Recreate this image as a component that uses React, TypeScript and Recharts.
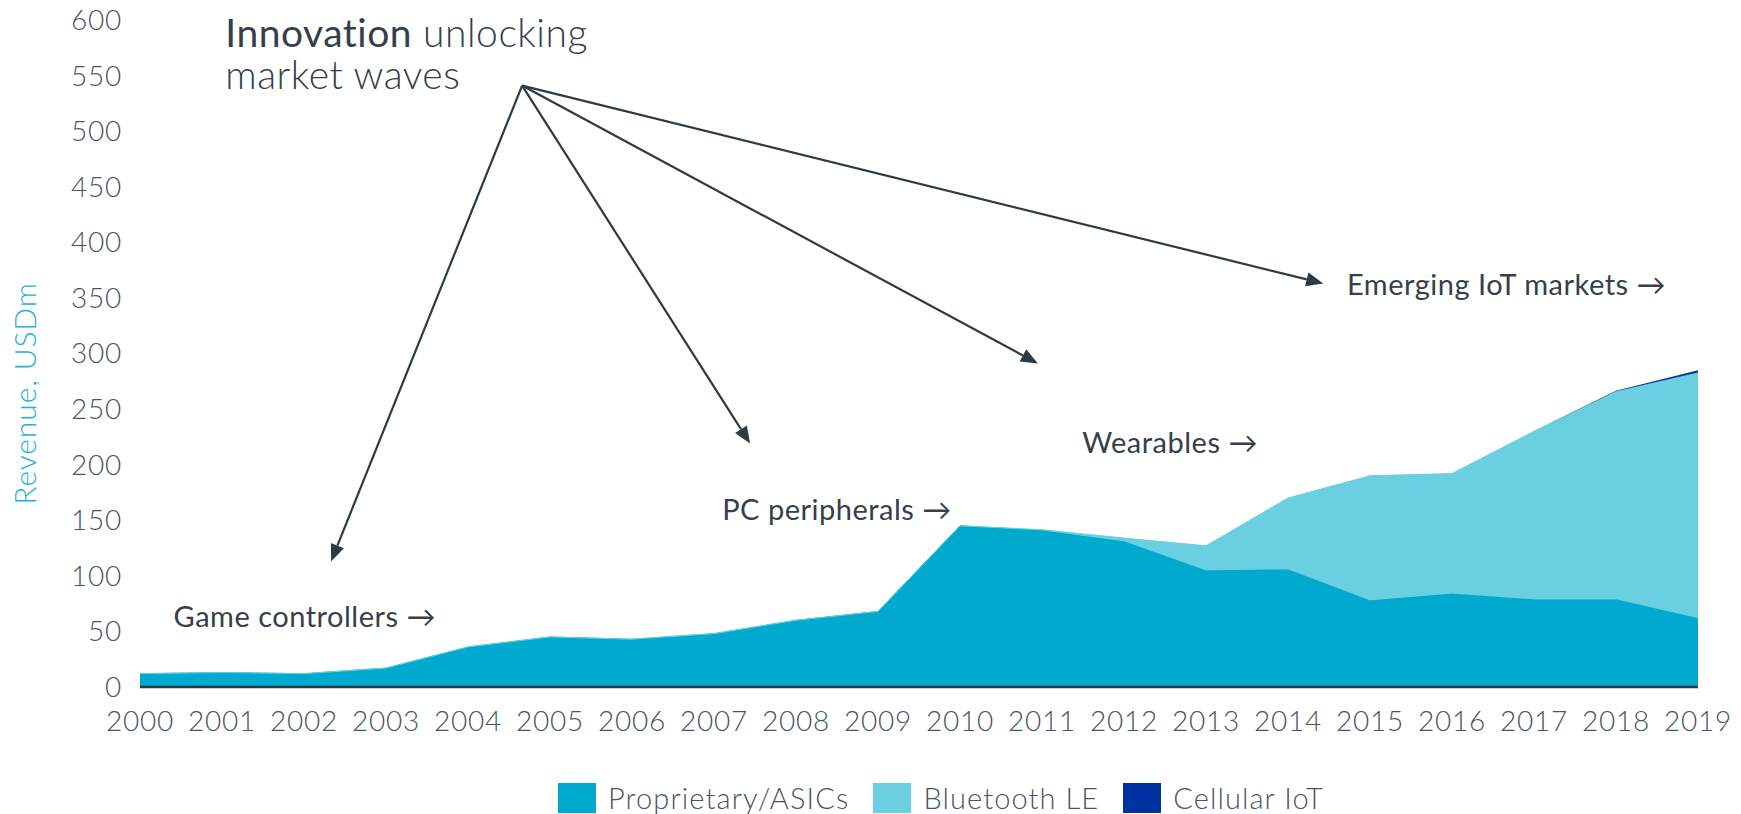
import React from "react";
import {
  AreaChart,
  Area,
  XAxis,
  YAxis,
  Legend,
  ReferenceLine,
  ReferenceDot,
} from "recharts";

const years = [
  2000, 2001, 2002, 2003, 2004, 2005, 2006, 2007, 2008, 2009,
  2010, 2011, 2012, 2013, 2014, 2015, 2016, 2017, 2018, 2019,
];
const proprietary = [12, 13, 12, 17, 36, 45, 43, 48, 60, 68, 145, 141, 131, 105, 106, 78, 84, 79, 79, 62];
const bluetoothLE = [0, 0, 0, 0, 0, 0, 0, 0, 0, 0, 0, 0.5, 3, 22, 64, 112, 108, 151, 187, 221];
const cellularIoT = [0, 0, 0, 0, 0, 0, 0, 0, 0, 0, 0, 0, 0, 0, 0, 0, 0, 0, 0.6, 2];
const yTicks = [0, 50, 100, 150, 200, 250, 300, 350, 400, 450, 500, 550, 600];

// arrows from the title out to each wave (year, value)
const arrowFrom = { x: 2004.66, y: 541 };
const arrowTo = [
  { x: 2002.33, y: 113 },
  { x: 2007.44, y: 219 },
  { x: 2010.95, y: 291 },
  { x: 2014.43, y: 363 },
];
const waveLabels = [
  { x: 2000.41, y: 64, text: "Game controllers \u2192" },
  { x: 2007.1, y: 161, text: "PC peripherals \u2192" },
  { x: 2011.49, y: 221, text: "Wearables \u2192" },
  { x: 2014.72, y: 363, text: "Emerging IoT markets \u2192" },
];

const data = years.map((year, i) => ({
  year,
  proprietary: proprietary[i],
  ble: bluetoothLE[i],
  cellular: cellularIoT[i],
}));

const FONT = "Lato, 'Open Sans', sans-serif";
const TEXT = "#35404b";
const TICK = "#4a5560";

const Arrow = (props: any) => {
  const { x1, y1, x2, y2 } = props;
  const dx = x2 - x1;
  const dy = y2 - y1;
  const len = Math.sqrt(dx * dx + dy * dy);
  const ux = dx / len;
  const uy = dy / len;
  const hl = 17;
  const hw = 7;
  const bx = x2 - ux * hl;
  const by = y2 - uy * hl;
  const pts = `${x2},${y2} ${bx - uy * hw},${by + ux * hw} ${bx + uy * hw},${by - ux * hw}`;
  return (
    <g>
      <line x1={x1} y1={y1} x2={bx} y2={by} stroke="#2f3a45" strokeWidth={2.2} />
      <polygon points={pts} fill="#2f3a45" />
    </g>
  );
};

const legendPayload = [
  { value: "Proprietary/ASICs", color: "#00aacf" },
  { value: "Bluetooth LE", color: "#69cfe1" },
  { value: "Cellular IoT", color: "#0033a1" },
];

const LegendContent = () => (
  <div style={{ display: "flex", justifyContent: "center", alignItems: "center", fontFamily: FONT, paddingLeft: 165 }}>
    {legendPayload.map((p) => (
      <div key={p.value} style={{ display: "flex", alignItems: "center", marginRight: 24 }}>
        <div style={{ width: 38, height: 30, background: p.color, marginRight: 12 }} />
        <span style={{ fontSize: 29, fontWeight: 300, letterSpacing: 1.1, color: TICK }}>{p.value}</span>
      </div>
    ))}
  </div>
);

const YLabel = (props: any) => {
  const { viewBox } = props;
  const cx = 24;
  const cy = viewBox.y + viewBox.height / 2 + 40;
  return (
    <text
      x={cx}
      y={cy}
      transform={`rotate(-90, ${cx}, ${cy})`}
      textAnchor="middle"
      dominantBaseline="central"
      fontFamily={FONT}
      fontSize={30}
      fontWeight={300}
      letterSpacing={0.9}
      fill="#1fb0dc"
    >
      Revenue, USDm
    </text>
  );
};

const Title = (p: any) => (
  <g fontFamily={FONT} fontSize={39} fill={TEXT} letterSpacing={0.5}>
    <text x={p.cx} y={p.cy}>
      <tspan fontWeight={400}>Innovation</tspan>
      <tspan fontWeight={300}> unlocking</tspan>
    </text>
    <text x={p.cx} y={p.cy + 42} fontWeight={300}>market waves</text>
  </g>
);

export default function App() {
  return (
    <div style={{ position: "absolute", left: 0, top: 0, width: 1741, height: 814, background: "#fff" }}>
      <AreaChart
        width={1741}
        height={814}
        data={data}
        margin={{ top: 20, right: 43, bottom: 67, left: 0 }}
      >
        <XAxis
          dataKey="year"
          type="number"
          domain={[2000, 2019]}
          ticks={years}
          tickFormatter={(v) => String(v)}
          axisLine={{ stroke: "#2d3640", strokeWidth: 2.5 }}
          tickLine={false}
          tickSize={0}
          tickMargin={24}
          height={60}
          interval={0}
          tick={{ fill: TICK, fontSize: 28, fontWeight: 300, letterSpacing: 0.8, fontFamily: FONT }}
        />
        <YAxis
          domain={[0, 600]}
          ticks={yTicks}
          interval={0}
          width={140}
          axisLine={false}
          tickLine={false}
          tickSize={0}
          tickMargin={18}
          tick={{ fill: TICK, fontSize: 28, fontWeight: 300, letterSpacing: 0.8, fontFamily: FONT }}
          label={<YLabel />}
        />
        <Legend verticalAlign="middle" align="center" content={<LegendContent />}
          wrapperStyle={{ top: 780, left: 0, width: 1741 }} />
        <Area type="linear" dataKey="proprietary" stackId="a" fill="#00aacf" stroke="#00aacf" fillOpacity={1} isAnimationActive={false} />
        <Area type="linear" dataKey="ble" stackId="a" fill="#69cfe1" stroke="#69cfe1" strokeWidth={1} fillOpacity={1} isAnimationActive={false} />
        <Area type="linear" dataKey="cellular" stackId="a" fill="#0033a1" stroke="none" fillOpacity={1} isAnimationActive={false} />
        {arrowTo.map((t, i) => (
          <ReferenceLine
            key={i}
            segment={[arrowFrom, t]}
            ifOverflow="visible"
            shape={<Arrow />}
          />
        ))}
        <ReferenceDot x={2001.04} y={576} r={0} ifOverflow="visible" shape={Title} />
        {waveLabels.map((l) => (
          <ReferenceDot
            key={l.text}
            x={l.x}
            y={l.y}
            r={0}
            ifOverflow="visible"
            shape={(p: any) => (
              <text x={p.cx} y={p.cy} dominantBaseline="central" fontFamily={FONT} fontSize={29} letterSpacing={0.5} fill={TEXT}>
                {l.text}
              </text>
            )}
          />
        ))}
      </AreaChart>
    </div>
  );
}
